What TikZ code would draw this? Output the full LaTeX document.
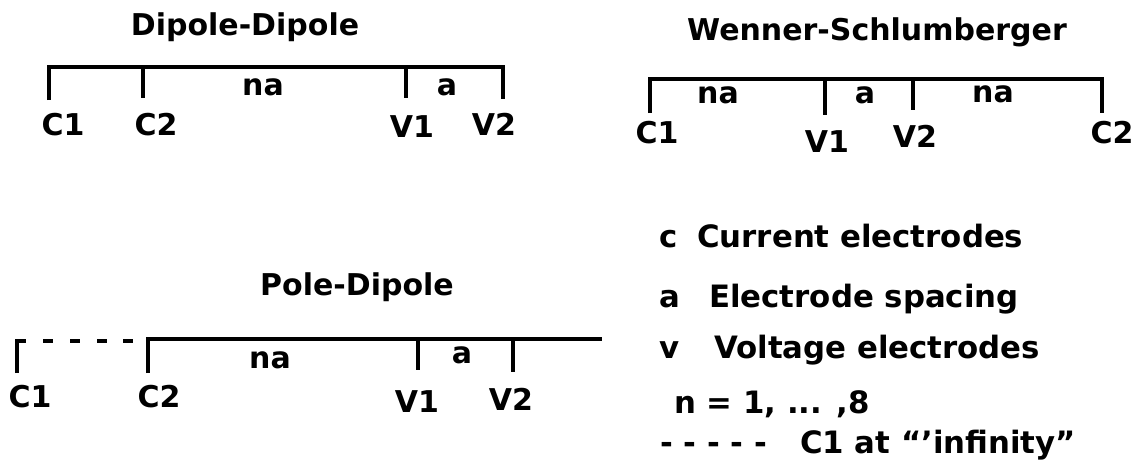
\documentclass[tikz,border=0pt]{standalone}
\usepackage{fontspec}
\setmainfont{DejaVu Sans}
\usepackage{tikz}

\begin{document}
\begin{tikzpicture}[x=0.5pt,y=-0.5pt,line width=2.2pt,
  lbl/.style={anchor=base,inner sep=0pt,font=\fontsize{15}{18}\selectfont\bfseries},
  keylbl/.style={lbl,anchor=base west,font=\fontsize{15.4}{18}\selectfont\bfseries}]
\useasboundingbox (0,0) rectangle (1138,463);
% Dipole-Dipole
\node[lbl] (ddtitle) at (245,35) {Dipole-Dipole};
\draw (49,100) |- (503,67) -- (503,99);
\foreach \x/\b in {143/98,406/98} {
   \draw (\x,67) -- (\x,\b);
}
\foreach \x/\y/\l/\n in %
{63/135/C1/c1,156/135/C2/c2,412/137/V1/v1,494/135/V2/v2,263/95/na/na,447/95/a/a} {
   \node[lbl] (dd\n) at (\x,\y) {\l};
}
% Wenner-Schlumberger
\node[lbl] (wstitle) at (877,40) {Wenner-Schlumberger};
\draw (650,113) |- (1102,79) -- (1102,113);
\foreach \x/\b in {825/115,913/110} {
   \draw (\x,79) -- (\x,\b);
}
\foreach \x/\y/\l/\n in %
{657/143/C1/c1,827/152/V1/v1,915/147/V2/v2,1112/143/C2/c2,718/103/na/na1,865/103/a/a,993/102/na/na2} {
   \node[lbl] (ws\n) at (\x,\y) {\l};
}
% Pole-Dipole
\node[lbl] (pdtitle) at (357,295) {Pole-Dipole};
\draw (17,373) |- (26,341);
\foreach \x in {43,70,97,123} {
   \draw (\x,341) -- ++(10,0);
}
\draw (148,373) |- (602,339);
\foreach \x/\b in {418/370,513/372} {
   \draw (\x,339) -- (\x,\b);
}
\foreach \x/\y/\l/\n in %
{30/407/C1/c1,159/407/C2/c2,417/412/V1/v1,511/410/V2/v2,270/368/na/na,462/363/a/a} {
   \node[lbl] (pd\n) at (\x,\y) {\l};
}
% legend
\foreach \y/\k/\d/\x/\n in %
{247/c/Current electrodes/695/c,307/a/Electrode spacing/707/a,358/v/Voltage electrodes/712/v} {
   \node[keylbl] (key\n) at (657,\y) {\k};
   \node[keylbl] (txt\n) at (\x,\y) {\d};
}
\node[keylbl] (keyn) at (672,413) {n = 1, ... ,8};
\node[keylbl] (keydash) at (658,453) {- - - - -};
\node[keylbl] (txtdash) at (798,453) {C1 at “’infinity”};
\end{tikzpicture}
\end{document}
